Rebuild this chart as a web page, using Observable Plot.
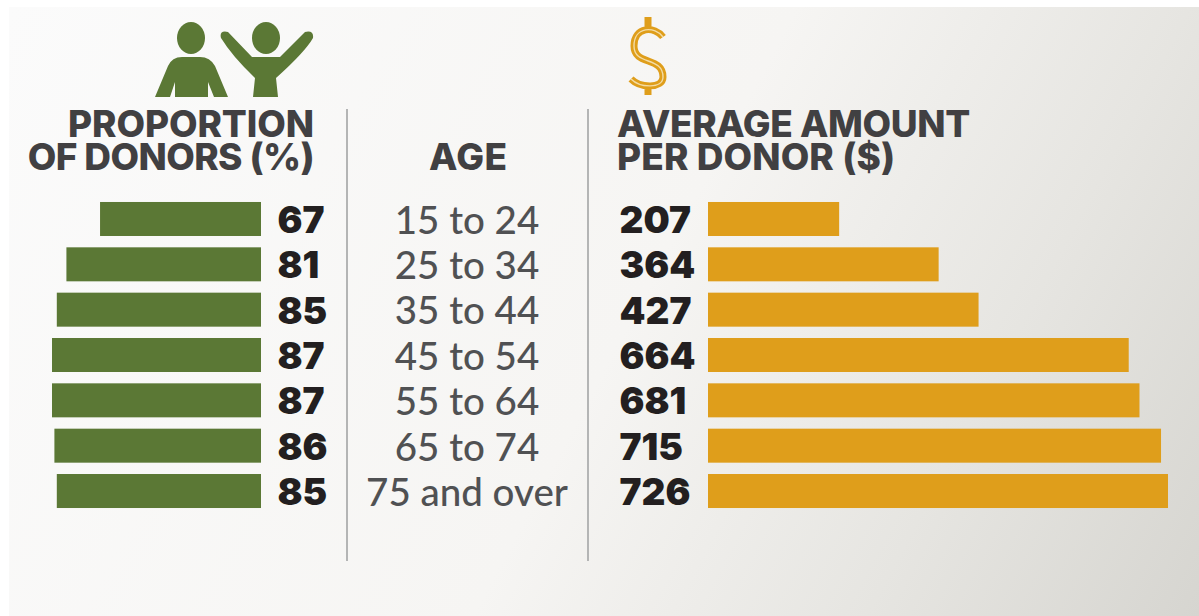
<!DOCTYPE html>
<html><head><meta charset="utf-8">
<script src="https://cdn.jsdelivr.net/npm/d3@7"></script>
<script src="https://cdn.jsdelivr.net/npm/@observablehq/plot@0.6"></script>
<style>
html,body{margin:0;padding:0;background:#fff;overflow:hidden}
#stage{position:relative;width:1199px;height:616px;overflow:hidden}
#bg{position:absolute;left:9px;top:7px;right:0;bottom:0;background:linear-gradient(118deg,#fbfbfb 0%,#f6f5f3 52%,#e6e5e1 78%,#d6d5d0 100%)}
.panel{position:absolute;top:0}
.panel svg{background:transparent;display:block}
.rule{position:absolute;top:109px;height:452px;width:2px;background:#b4b5b5}
.head{position:absolute;font:800 37px/33px Inter,"Open Sans",sans-serif;color:#414042;white-space:pre}
.head span{display:block;height:33px}
#icons{position:absolute;left:0;top:0}
</style></head><body>
<div id="stage">
<div id="bg"></div>
<svg id="icons" width="1199" height="616" aria-hidden="true">
<g fill="#5b7835">
<ellipse cx="191" cy="38" rx="14" ry="16"/>
<ellipse cx="266" cy="38" rx="14" ry="16"/>
<path d="M155,97 L168,66 Q172,57 182,57 L200,57 Q210,57 215,66 L228,97 L214,97 L208,82 L208,97 L175,97 L175,82 L170,97 Z"/>
<path d="M221,38 Q219,30 228,32 L252,57 L280,57 L305,32 Q314,30 313,38 Q305,52 276,78 L278,97 L253,97 L255,78 Q232,56 221,38 Z"/>
</g>
<g fill="none" stroke-linecap="butt">
<path d="M648,17 V28 M648,84 V95 M663,37 C655,26 634,26 634,46 C634,66 663,56 663,77 C663,89 640,88 631,79" stroke="#df9e1b" stroke-width="7"/>
<path d="M663,37 C655,26 634,26 634,46 C634,66 663,56 663,77 C663,89 640,88 631,79" stroke="#f3dca6" stroke-width="1.4"/>
</g>
</svg>
<div class="rule" style="left:346px"></div>
<div class="rule" style="left:587px"></div>
<div class="head" style="right:885px;top:107px;text-align:right"><span style="letter-spacing:-0.1px">PROPORTION</span><span style="letter-spacing:-0.6px">OF DONORS (%)</span></div>
<div class="head" style="left:429px;top:140px;letter-spacing:0.4px">AGE</div>
<div class="head" style="left:617px;top:107px"><span style="letter-spacing:-0.4px">AVERAGE AMOUNT</span><span style="letter-spacing:0.1px">PER DONOR ($)</span></div>
<div class="panel" id="left" style="left:0"></div>
<div class="panel" id="mid" style="left:347px"></div>
<div class="panel" id="right" style="left:588px"></div>
</div>
<script>
const ages = ["15 to 24","25 to 34","35 to 44","45 to 54","55 to 64","65 to 74","75 and over"];
const proportion = [67,81,85,87,87,86,85];
const amount = [207,364,427,664,681,715,726];

const green = "#5b7835", gold = "#df9e1b", ink = "#231f20", grey = "#505153";
const rows = ages.map((age,i)=>({age, proportion:proportion[i], amount:amount[i]}));
const frame = {height:616, marginTop:190.65, marginBottom:96.65, marginLeft:0, marginRight:0,
  style:{background:"transparent",overflow:"visible"}};
const yScale = {type:"band", domain:ages, axis:null, padding:0.25, round:false};
const numFont = {fontFamily:"Inter, 'Open Sans', sans-serif", fontWeight:900, fontSize:37, fill:ink, dy:1.5};

document.getElementById("left").append(Plot.plot({
  ...frame, width:347,
  x:{domain:[0,87], range:[261,52], axis:null}, y:yScale,
  marks:[
    Plot.barX(rows,{x:"proportion",y:"age",fill:green}),
    Plot.text(rows,{x:0,y:"age",text:d=>String(d.proportion),textAnchor:"start",dx:16,...numFont})
  ]
}));
document.getElementById("mid").append(Plot.plot({
  ...frame, width:241,
  x:{domain:[0,1], range:[0,241], axis:null}, y:yScale,
  marks:[
    Plot.text(rows,{x:0.5,y:"age",text:"age",textAnchor:"middle",dx:-1,dy:2,fontFamily:"Lato, sans-serif",fontWeight:500,fontSize:38.5,fill:grey})
  ]
}));
document.getElementById("right").append(Plot.plot({
  ...frame, width:611,
  x:{domain:[0,726], range:[120,580], axis:null}, y:yScale,
  marks:[
    Plot.barX(rows,{x:"amount",y:"age",fill:gold}),
    Plot.text(rows,{x:0,y:"age",text:d=>String(d.amount),textAnchor:"start",dx:-89,...numFont})
  ]
}));
</script>
</body></html>
